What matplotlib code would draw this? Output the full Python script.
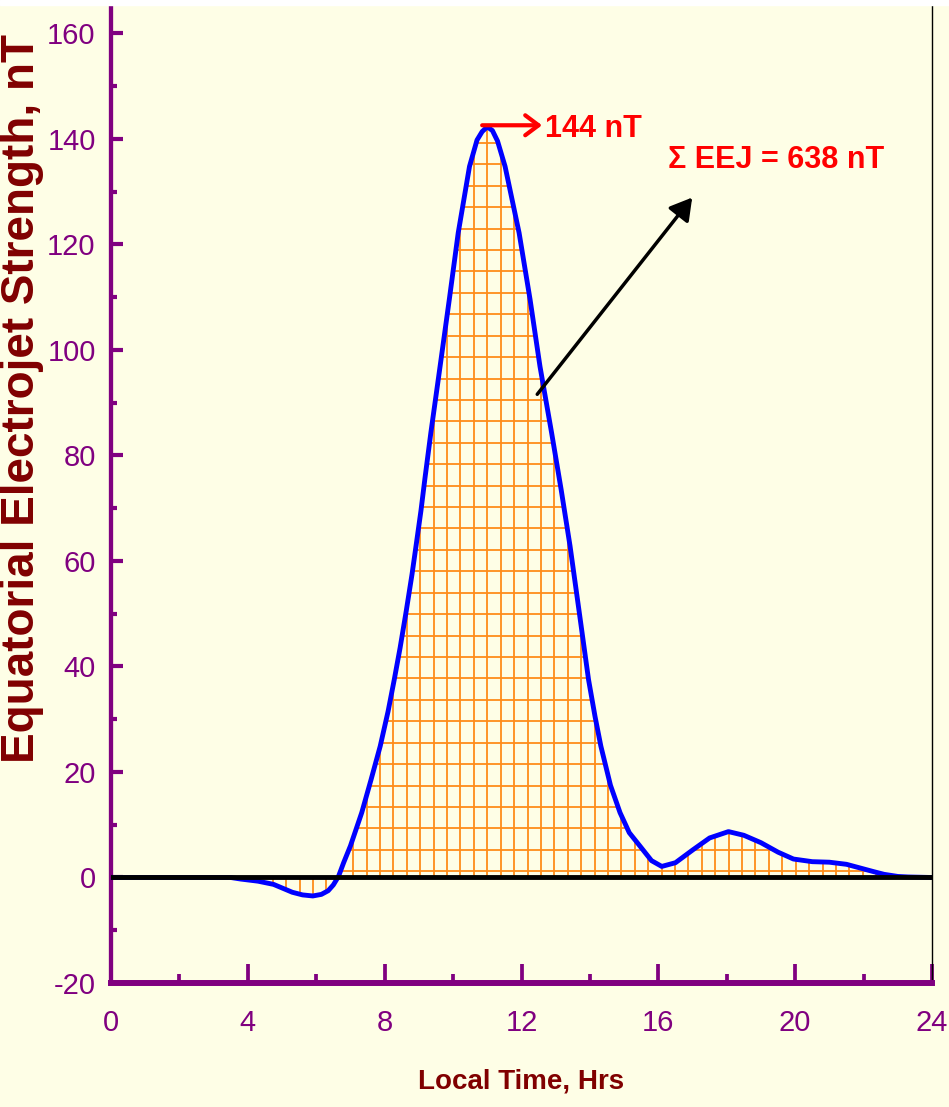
import numpy as np
import matplotlib
matplotlib.use("Agg")
import matplotlib.pyplot as plt
from matplotlib.patches import Polygon, Rectangle

plt.rcParams["axes.unicode_minus"] = False

# Tagesgang des äquatorialen Elektrojets
hours = [0, 2, 3.5, 3.8, 4.3, 4.75, 5.3, 5.6, 5.9, 6.15, 6.35, 6.5, 6.65, 6.8,
         7.0, 7.33, 7.6, 7.87, 8.1, 8.28, 8.45, 8.63, 8.8, 8.92, 9.06, 9.18,
         9.35, 9.62, 9.89, 10.15, 10.48, 10.7, 10.85, 11.0, 11.15, 11.3, 11.52,
         11.93, 12.25, 12.54, 12.88, 13.16, 13.42, 13.69, 13.96, 14.15, 14.32,
         14.6, 14.88, 15.15, 15.47, 15.8, 16.1, 16.5, 17.0, 17.5, 18.05, 18.5,
         19.0, 19.5, 19.95, 20.5, 21.0, 21.5, 21.9, 22.3, 22.6, 23.0, 23.3, 24]
eej = [0, 0, 0, -0.3, -0.7, -1.3, -2.8, -3.3, -3.5, -3.2, -2.5, -1.4, 0.2, 2.8,
       6, 12.3, 18.5, 24.9, 31.5, 37.5, 43.5, 50.5, 57.5, 63, 69.5, 75.8,
       84.3, 96.9, 109.6, 122.2, 134.8, 139.8, 141.4, 142.3, 141.6, 139.6, 134.8,
       122.2, 109.6, 96.9, 84.3, 73.5, 62.8, 50.2, 37.5, 30.5, 24.9,
       17.5, 12.3, 8.5, 5.9, 3.2, 2.1, 2.8, 5.2, 7.5, 8.7, 8.0,
       6.6, 4.8, 3.5, 3.0, 2.9, 2.5, 1.8, 1.1, 0.6, 0.2, 0.1, 0]

x_major = [0, 4, 8, 12, 16, 20, 24]
y_major = [-20, 0, 20, 40, 60, 80, 100, 120, 140, 160]

purple = "#800080"
darkred = "#800000"
bg = "#fefee6"
font = ["Liberation Sans", "DejaVu Sans"]

fig = plt.figure(figsize=(9.49, 11.07), dpi=100, facecolor=bg)
ax = fig.add_axes([111 / 949, 1 - 983 / 1107, 821 / 949, 978 / 1107])
ax.set_facecolor(bg)
fig.add_artist(Rectangle((0, 1 - 5 / 1107), 1, 5 / 1107, transform=fig.transFigure,
                         color="white", zorder=10))

ax.set_xlim(0, 24)
ax.set_ylim(-20, 165.4)

# Fläche unter der Kurve mit Gitter schraffieren
verts = list(zip(hours, eej)) + [(24, 0), (0, 0)]
area = Polygon(verts, closed=True, facecolor="none", edgecolor="none")
ax.add_patch(area)
xs = 11 + 0.392 * np.arange(-20, 34)
ys = 1.2 + 4.06 * np.arange(0, 36)
vl = ax.vlines(xs, -10, 150, color="#ff8c1a", lw=1.3, zorder=2)
hl = ax.hlines(ys, 0, 24, color="#ff8c1a", lw=1.3, zorder=2)
vl.set_clip_path(area)
hl.set_clip_path(area)

ax.plot(hours, eej, color="#0000ff", lw=3.5, solid_joinstyle="round", zorder=3)
ax.axhline(0, color="black", lw=3.5, zorder=4)

# Achsen
ax.spines["top"].set_visible(False)
ax.spines["right"].set_linewidth(1)
ax.spines["right"].set_color("black")
ax.spines["left"].set_linewidth(3.1)
ax.spines["left"].set_color(purple)
ax.spines["bottom"].set_linewidth(4.3)
ax.spines["bottom"].set_color(purple)

ax.set_xticks(x_major)
ax.set_xticks([2, 6, 10, 14, 18, 22], minor=True)
ax.set_yticks(y_major)
ax.set_yticks(np.arange(-10, 170, 20), minor=True)
ax.tick_params(axis="y", which="major", direction="in", length=8.6, width=3,
               color=purple, labelcolor=purple, pad=11, labelsize=21)
ax.tick_params(axis="y", which="minor", direction="in", length=4.3, width=3, color=purple)
ax.tick_params(axis="x", which="major", direction="in", length=13.7, width=2.7,
               color=purple, labelcolor=purple, pad=19, labelsize=21)
ax.tick_params(axis="x", which="minor", direction="in", length=6.5, width=2.7, color=purple)
for lab in ax.get_xticklabels() + ax.get_yticklabels():
    lab.set_family(font)

ax.set_xlabel("Local Time, Hrs", color=darkred, fontsize=20, fontweight="bold",
              family=font)
ax.xaxis.set_label_coords(0.5, -0.087)
ax.set_ylabel("Equatorial Electrojet Strength, nT", color=darkred, fontsize=33,
              fontweight="bold", family=font)
ax.yaxis.set_label_coords(-0.081, 0.598)

# Beschriftungen
ax.annotate("", xy=(12.6, 142.6), xytext=(10.85, 142.6),
            arrowprops=dict(arrowstyle="->, head_length=0.4, head_width=0.3",
                            color="red", lw=3, mutation_scale=24, shrinkA=0, shrinkB=0),
            zorder=5)
ax.text(12.7, 141.8, "144 nT", color="red", fontsize=22, fontweight="bold",
        family=font, va="center")
ax.text(16.28, 136.1, "Σ EEJ = 638 nT", color="red", fontsize=22, fontweight="bold",
        family=font, va="center")
ax.annotate("", xy=(16.99, 128.9), xytext=(12.46, 91.6),
            arrowprops=dict(arrowstyle="-|>, head_length=0.6, head_width=0.35",
                            color="black", lw=2.5, mutation_scale=22, shrinkA=0, shrinkB=0),
            zorder=5)

fig.savefig("out.png", dpi=100, facecolor=bg)
